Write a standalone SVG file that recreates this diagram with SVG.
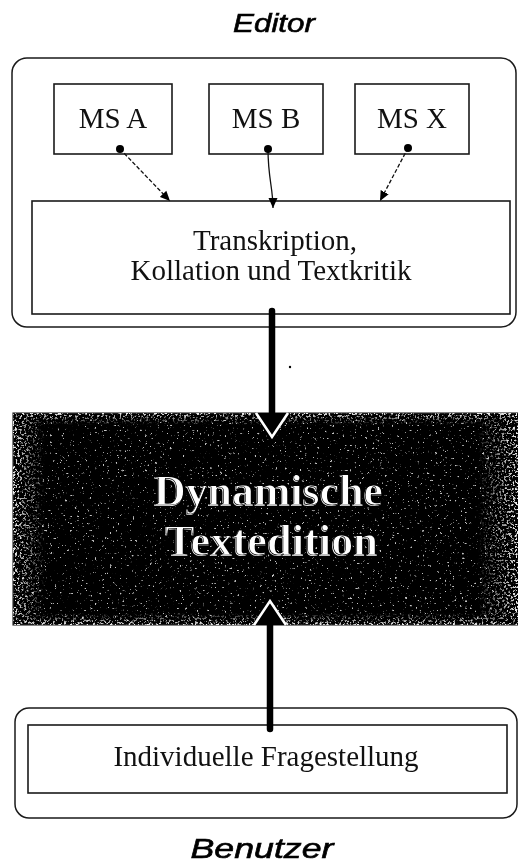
<svg xmlns="http://www.w3.org/2000/svg" width="518" height="868" viewBox="0 0 518 868">
<style>
  .frame{fill:none;stroke:#1a1a1a;stroke-width:1.5}
  .box{fill:#fff;stroke:#1a1a1a;stroke-width:1.6}
  .serif{font-family:"Liberation Serif","Times New Roman",serif;fill:#111;text-anchor:middle}
  .title{font-family:"Liberation Sans",Arial,sans-serif;font-style:italic;fill:#000;stroke:#000;stroke-width:0.6;text-anchor:middle}
  .big{font-family:"Liberation Serif","Times New Roman",serif;font-weight:bold;fill:#fff;stroke:#000;stroke-width:3;paint-order:stroke;text-anchor:middle}
  .bigline{font-family:"Liberation Serif","Times New Roman",serif;font-weight:bold;fill:none;stroke:#000;stroke-width:0.7;text-anchor:middle}
  .thin{fill:none;stroke:#111;stroke-width:1.3}
  .thick{fill:none;stroke:#000;stroke-width:6.5;stroke-linecap:round}
</style>
<defs>
  <marker id="dot" viewBox="-5 -5 10 10" refX="0" refY="0" markerWidth="10" markerHeight="10" markerUnits="userSpaceOnUse">
    <circle cx="0" cy="0" r="4" fill="#000"/>
  </marker>
  <marker id="tri" viewBox="0 -5 10 10" refX="10" refY="0" markerWidth="10" markerHeight="10" markerUnits="userSpaceOnUse" orient="auto">
    <path d="M0,-4.5 L10,0 L0,4.5 Z" fill="#000"/>
  </marker>
  <marker id="bigHead" viewBox="-2 -19 29 38" refX="24" refY="0" markerWidth="29" markerHeight="38" markerUnits="userSpaceOnUse" orient="auto">
    <path d="M0,-16 L24,0 L0,16 Z" fill="#000"/>
    <path d="M0,-16 L24,0 L0,16" fill="none" stroke="#fff" stroke-width="2.6"/>
  </marker>
  <filter id="specks" x="0" y="0" width="1" height="1" color-interpolation-filters="sRGB">
    <feTurbulence type="fractalNoise" baseFrequency="0.4" numOctaves="3" seed="7"/>
    <feColorMatrix type="matrix" values="0 0 0 0 0.9  0 0 0 0 0.9  0 0 0 0 0.9  0 0 0 9 -6.2"/>
    <feComposite in2="SourceAlpha" operator="in"/>
  </filter>
  <filter id="specksDense" x="0" y="0" width="1" height="1" color-interpolation-filters="sRGB">
    <feTurbulence type="fractalNoise" baseFrequency="0.45" numOctaves="3" seed="3"/>
    <feColorMatrix type="matrix" values="0 0 0 0 0.95  0 0 0 0 0.95  0 0 0 0 0.95  0 0 0 9 -4.9"/>
    <feComposite in2="SourceAlpha" operator="in"/>
  </filter>
  <linearGradient id="gl" x1="0" x2="1" y1="0" y2="0">
    <stop offset="0" stop-color="#fff"/><stop offset="1" stop-color="#000"/>
  </linearGradient>
  <linearGradient id="gr" x1="1" x2="0" y1="0" y2="0">
    <stop offset="0" stop-color="#fff"/><stop offset="1" stop-color="#000"/>
  </linearGradient>
  <linearGradient id="gt" x1="0" x2="0" y1="0" y2="1">
    <stop offset="0" stop-color="#fff"/><stop offset="1" stop-color="#000"/>
  </linearGradient>
  <linearGradient id="gb" x1="0" x2="0" y1="1" y2="0">
    <stop offset="0" stop-color="#fff"/><stop offset="1" stop-color="#000"/>
  </linearGradient>
  <mask id="edgeMask" maskUnits="userSpaceOnUse" x="0" y="400" width="518" height="240">
    <rect x="13" y="413" width="505" height="212" fill="#000"/>
    <rect x="13" y="413" width="32" height="212" fill="url(#gl)"/>
    <rect x="478" y="413" width="40" height="212" fill="url(#gr)"/>
    <rect x="13" y="413" width="505" height="12" fill="url(#gt)" style="mix-blend-mode:lighten"/>
    <rect x="13" y="613" width="505" height="12" fill="url(#gb)" style="mix-blend-mode:lighten"/>
  </mask>
</defs>

<g id="editor-label">
  <text class="title" x="274" y="32" font-size="26" textLength="82" lengthAdjust="spacingAndGlyphs">Editor</text>
</g>

<g id="editor-frame">
  <rect class="frame" x="12" y="58" width="504" height="269" rx="15" ry="15"/>
</g>

<g id="ms-a">
  <rect class="box" x="54" y="84" width="118" height="70"/>
  <text class="serif" x="113" y="128" font-size="29">MS A</text>
</g>
<g id="ms-b">
  <rect class="box" x="209" y="84" width="114" height="70"/>
  <text class="serif" x="266" y="128" font-size="29">MS B</text>
</g>
<g id="ms-x">
  <rect class="box" x="355" y="84" width="114" height="70"/>
  <text class="serif" x="412" y="128" font-size="29">MS X</text>
</g>

<g id="transkription">
  <rect class="box" x="32" y="201" width="478" height="113"/>
  <text class="serif" x="275" y="250" font-size="29">Transkription,</text>
  <text class="serif" x="271" y="280" font-size="29">Kollation und Textkritik</text>
</g>

<g id="dynamische-textedition">
  <rect x="13" y="413" width="510" height="212" fill="#000" stroke="#333" stroke-width="1.2"/>
  <rect x="13" y="413" width="505" height="212" fill="#fff" filter="url(#specks)" opacity="0.85"/>
  <rect x="13" y="413" width="505" height="212" fill="#fff" filter="url(#specksDense)" mask="url(#edgeMask)"/>
  <text class="big" x="268" y="506" font-size="45" textLength="229" lengthAdjust="spacingAndGlyphs">Dynamische</text>
  <text class="big" x="271" y="556" font-size="45" textLength="213" lengthAdjust="spacingAndGlyphs">Textedition</text>
  <text class="bigline" x="268" y="506" font-size="45" textLength="229" lengthAdjust="spacingAndGlyphs" transform="translate(0.8,-0.8)">Dynamische</text>
  <text class="bigline" x="271" y="556" font-size="45" textLength="213" lengthAdjust="spacingAndGlyphs" transform="translate(0.8,-0.8)">Textedition</text>
</g>

<g id="benutzer-frame">
  <rect class="frame" x="15" y="708" width="502" height="110" rx="14" ry="14"/>
</g>

<g id="fragestellung">
  <rect class="box" x="28" y="725" width="479" height="68"/>
  <text class="serif" x="266" y="766" font-size="29">Individuelle Fragestellung</text>
</g>

<g id="benutzer-label">
  <text class="title" x="262" y="858" font-size="28" textLength="143" lengthAdjust="spacingAndGlyphs">Benutzer</text>
</g>

<g id="connectors">
  <path class="thin" d="M120,149 L170,201" stroke-dasharray="4 2" marker-start="url(#dot)" marker-end="url(#tri)"/>
  <path class="thin" d="M268,149 C268,178 273,188 273,208" marker-start="url(#dot)" marker-end="url(#tri)"/>
  <path class="thin" d="M408,148 L380,201" stroke-dasharray="4 2" marker-start="url(#dot)" marker-end="url(#tri)"/>
  <path class="thick" d="M272,311 L272,437" marker-end="url(#bigHead)"/>
  <path class="thick" d="M270,729 L270,601" marker-end="url(#bigHead)"/>
</g>
<circle cx="290" cy="367" r="1.2" fill="#000"/>
</svg>
